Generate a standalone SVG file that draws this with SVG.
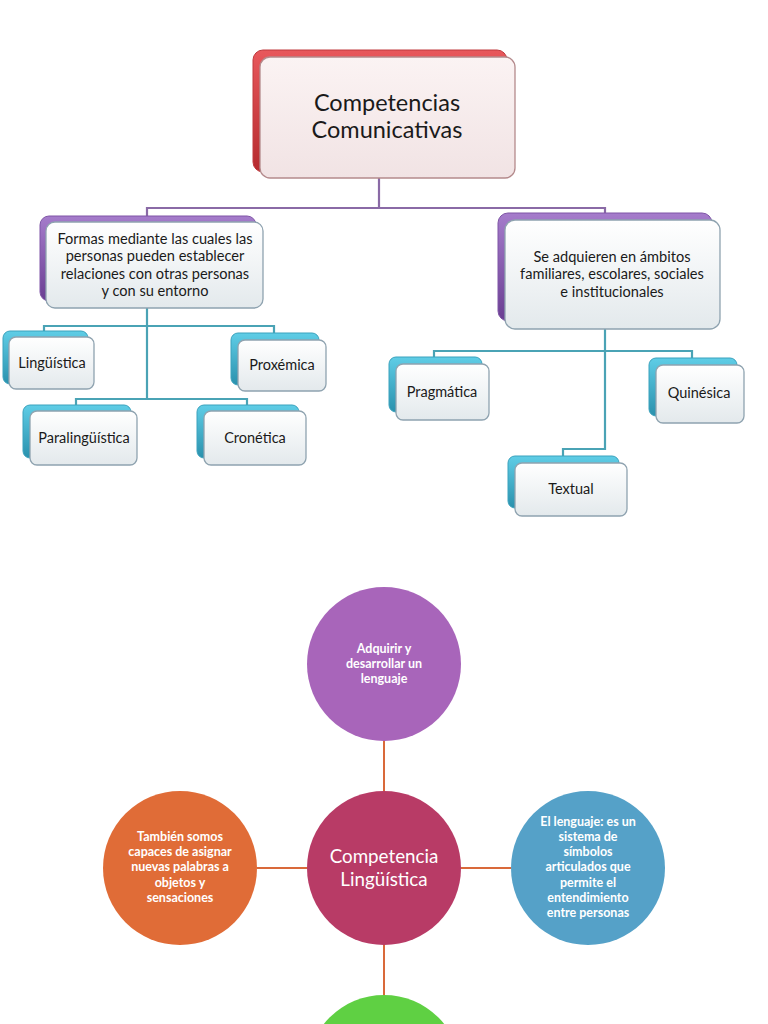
<svg xmlns="http://www.w3.org/2000/svg" width="768" height="1024" viewBox="0 0 768 1024">
<defs>
<linearGradient id="front" x1="0" y1="0" x2="0" y2="1">
<stop offset="0" stop-color="#ffffff"/><stop offset="1" stop-color="#e3e9ec"/>
</linearGradient>
<linearGradient id="frontRed" x1="0" y1="0" x2="0" y2="1">
<stop offset="0" stop-color="#fbf3f3"/><stop offset="1" stop-color="#f1e3e4"/>
</linearGradient>
<linearGradient id="backRed" x1="0" y1="0" x2="0" y2="1">
<stop offset="0" stop-color="#e8585c"/><stop offset="1" stop-color="#b52a2e"/>
</linearGradient>
<linearGradient id="backPurple" x1="0" y1="0" x2="0" y2="1">
<stop offset="0" stop-color="#a57ccb"/><stop offset="1" stop-color="#6a3e92"/>
</linearGradient>
<linearGradient id="backCyan" x1="0" y1="0" x2="0" y2="1">
<stop offset="0" stop-color="#5fcde6"/><stop offset="1" stop-color="#2a91ad"/>
</linearGradient>
</defs>
<style>
.fr{fill:url(#front);stroke:#8fa3b0;stroke-width:1.3}
.frR{fill:url(#frontRed);stroke:#b48a8c;stroke-width:1.3}
.bR{fill:url(#backRed);stroke:#c03a3e;stroke-width:1}
.bP{fill:url(#backPurple);stroke:#7f55a6;stroke-width:1}
.bC{fill:url(#backCyan);stroke:#3aa2bd;stroke-width:1}
.t{font-family:Lato,"Open Sans",sans-serif;fill:#1a1a1a;text-anchor:middle}
.lp{fill:none;stroke:#8a6aa6;stroke-width:2.2}
.lc{fill:none;stroke:#4aa3b5;stroke-width:2.2}
.lo{fill:none;stroke:#d9693a;stroke-width:2}
.ct{font-family:Lato,"Open Sans",sans-serif;fill:#ffffff;text-anchor:middle;font-weight:bold;font-size:12.5px}
</style>
<g id="connectors">
<polyline class="lp" points="379,178 379,208 147,208 147,217"/>
<polyline class="lp" points="379,208 605,208 605,214"/>
<polyline class="lc" points="147,308 147,400"/>
<polyline class="lc" points="44,332 44,326 274,326 274,334"/>
<polyline class="lc" points="76,406 76,399 247,399 247,406"/>
<polyline class="lc" points="605,329 605,449 563,449 563,457"/>
<polyline class="lc" points="434,358 434,351 692,351 692,359"/>
<line class="lo" x1="384" y1="741" x2="384" y2="791"/>
<line class="lo" x1="384" y1="945" x2="384" y2="995"/>
<line class="lo" x1="257" y1="868" x2="307" y2="868"/>
<line class="lo" x1="461" y1="868" x2="511" y2="868"/>
</g>
<g id="n-root">
<rect class="bR" x="253" y="50" width="254" height="122" rx="10"/>
<rect class="frR" x="260" y="57" width="255" height="121" rx="10"/>
<text class="t" font-size="23.5" x="387" y="111">Competencias</text>
<text class="t" font-size="23.5" x="387" y="138">Comunicativas</text>
</g>
<g id="n-formas">
<rect class="bP" x="40" y="216" width="216" height="85" rx="9"/>
<rect class="fr" x="46" y="222" width="217" height="86" rx="9"/>
<text class="t" font-size="14.6" x="155" y="244">Formas mediante las cuales las</text>
<text class="t" font-size="14.6" x="155" y="261">personas  pueden establecer</text>
<text class="t" font-size="14.6" x="155" y="279">relaciones con otras personas</text>
<text class="t" font-size="14.6" x="155" y="296">y con su entorno</text>
</g>
<g id="n-adquieren">
<rect class="bP" x="498" y="213" width="214" height="108" rx="10"/>
<rect class="fr" x="505" y="220" width="215" height="109" rx="10"/>
<text class="t" font-size="14.6" x="612" y="262">Se adquieren en ámbitos</text>
<text class="t" font-size="14.6" x="612" y="279">familiares, escolares, sociales</text>
<text class="t" font-size="14.6" x="612" y="297">e institucionales</text>
</g>
<g id="n-linguistica">
<rect class="bC" x="3" y="331" width="85" height="53" rx="7"/>
<rect class="fr" x="9" y="337" width="85" height="52" rx="7"/>
<text class="t" font-size="14.5" x="52" y="368">Lingüística</text>
</g>
<g id="n-proxemica">
<rect class="bC" x="231" y="333" width="88" height="52" rx="7"/>
<rect class="fr" x="238" y="340" width="88" height="51" rx="7"/>
<text class="t" font-size="14.5" x="282" y="370">Proxémica</text>
</g>
<g id="n-paralinguistica">
<rect class="bC" x="23" y="405" width="108" height="53" rx="7"/>
<rect class="fr" x="30" y="411" width="107" height="54" rx="7"/>
<text class="t" font-size="14.5" x="84" y="443">Paralingüística</text>
</g>
<g id="n-cronetica">
<rect class="bC" x="197" y="405" width="102" height="53" rx="7"/>
<rect class="fr" x="204" y="411" width="102" height="54" rx="7"/>
<text class="t" font-size="14.5" x="255" y="443">Cronética</text>
</g>
<g id="n-pragmatica">
<rect class="bC" x="389" y="357" width="93" height="55" rx="7"/>
<rect class="fr" x="396" y="364" width="93" height="56" rx="7"/>
<text class="t" font-size="14.5" x="442" y="397">Pragmática</text>
</g>
<g id="n-quinesica">
<rect class="bC" x="649" y="358" width="88" height="58" rx="7"/>
<rect class="fr" x="656" y="365" width="88" height="58" rx="7"/>
<text class="t" font-size="14.5" x="699" y="398">Quinésica</text>
</g>
<g id="n-textual">
<rect class="bC" x="508" y="456" width="111" height="52" rx="7"/>
<rect class="fr" x="515" y="463" width="112" height="53" rx="7"/>
<text class="t" font-size="14.5" x="571" y="494">Textual</text>
</g>
<g id="c-adquirir">
<circle cx="384" cy="664" r="77" fill="#a865ba"/>
<text class="ct" x="384" y="653">Adquirir y</text>
<text class="ct" x="384" y="668">desarrollar un</text>
<text class="ct" x="384" y="683">lenguaje</text>
</g>
<g id="c-center">
<circle cx="384" cy="868" r="77" fill="#b83b66"/>
<text x="384" y="863" font-family="Lato,'Open Sans',sans-serif" font-size="18.8" fill="#ffffff" text-anchor="middle">Competencia</text>
<text x="384" y="886" font-family="Lato,'Open Sans',sans-serif" font-size="18.8" fill="#ffffff" text-anchor="middle">Lingüística</text>
</g>
<g id="c-tambien">
<circle cx="180" cy="868" r="77" fill="#e06c37"/>
<text class="ct" x="180" y="841">También somos</text>
<text class="ct" x="180" y="856">capaces de asignar</text>
<text class="ct" x="180" y="871">nuevas palabras a</text>
<text class="ct" x="180" y="887">objetos y</text>
<text class="ct" x="180" y="902">sensaciones</text>
</g>
<g id="c-lenguaje">
<circle cx="588" cy="868" r="77" fill="#55a1c8"/>
<text class="ct" x="588" y="826">El lenguaje: es un</text>
<text class="ct" x="588" y="841">sistema de</text>
<text class="ct" x="588" y="856">símbolos</text>
<text class="ct" x="588" y="871">articulados que</text>
<text class="ct" x="588" y="887">permite el</text>
<text class="ct" x="588" y="902">entendimiento</text>
<text class="ct" x="588" y="917">entre personas</text>
</g>
<g id="c-bottom">
<circle cx="384" cy="1072" r="77" fill="#5fd043"/>
</g>
</svg>
